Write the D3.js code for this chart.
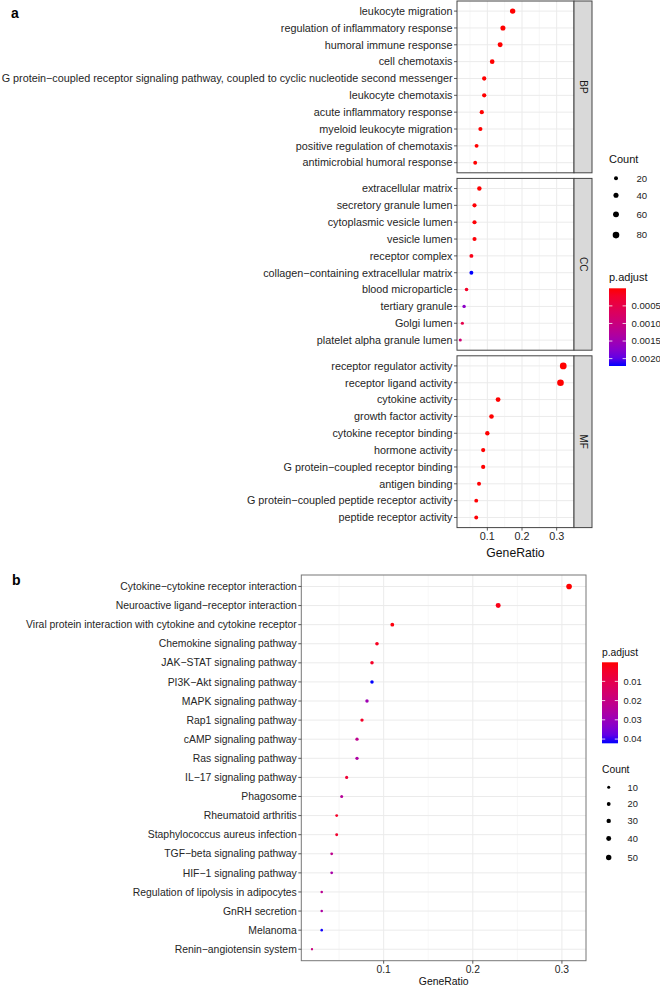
<!DOCTYPE html>
<html>
<head>
<meta charset="utf-8">
<script src="https://cdnjs.cloudflare.com/ajax/libs/d3/7.8.5/d3.min.js"></script>
<style>
  body { margin: 0; background: #fff; }
  svg { display: block; font-family: "Liberation Sans", Arial, sans-serif; }
</style>
</head>
<body>
<svg id="chart" width="660" height="986"></svg>
<script>
// ---- panel a: GO terms, one list per ontology ----
const bpTerms = ['leukocyte migration', 'regulation of inflammatory response', 'humoral immune response',
  'cell chemotaxis', 'G protein\u2212coupled receptor signaling pathway, coupled to cyclic nucleotide second messenger',
  'leukocyte chemotaxis', 'acute inflammatory response', 'myeloid leukocyte migration',
  'positive regulation of chemotaxis', 'antimicrobial humoral response']
const bpRatio = [0.173, 0.145, 0.137, 0.114, 0.091, 0.091, 0.084, 0.080, 0.069, 0.065]
const bpCount = [48, 40, 38, 31, 25, 25, 23, 22, 19, 18]
const bpPadj = [1e-12, 1e-11, 1e-10, 1e-9, 1e-8, 1e-8, 5e-8, 1e-7, 5e-7, 1e-6]

const ccTerms = ['extracellular matrix', 'secretory granule lumen', 'cytoplasmic vesicle lumen', 'vesicle lumen',
  'receptor complex', 'collagen\u2212containing extracellular matrix', 'blood microparticle', 'tertiary granule',
  'Golgi lumen', 'platelet alpha granule lumen']
const ccRatio = [0.077, 0.063, 0.063, 0.063, 0.054, 0.054, 0.040, 0.033, 0.028, 0.022]
const ccCount = [27, 22, 22, 22, 19, 19, 14, 12, 10, 8]
const ccPadj = [1e-6, 2e-5, 2e-5, 2e-5, 1e-4, 0.00221, 2e-4, 0.0017, 0.0005, 0.0009]

const mfTerms = ['receptor regulator activity', 'receptor ligand activity', 'cytokine activity',
  'growth factor activity', 'cytokine receptor binding', 'hormone activity',
  'G protein\u2212coupled receptor binding', 'antigen binding', 'G protein\u2212coupled peptide receptor activity',
  'peptide receptor activity']
const mfRatio = [0.319, 0.311, 0.131, 0.112, 0.100, 0.088, 0.088, 0.076, 0.068, 0.068]
const mfCount = [85, 82, 35, 30, 27, 23, 23, 20, 18, 18]
const mfPadj = [1e-30, 1e-29, 1e-14, 1e-10, 1e-9, 1e-7, 1e-7, 1e-5, 1e-5, 2e-5]

const countBreaksA = [20, 40, 60, 80]
const padjBreaksA = [0.0005, 0.0010, 0.0015, 0.0020]
const axisTicksA = [0.1, 0.2, 0.3]

// ---- panel b: KEGG pathways ----
const keggTerms = ['Cytokine\u2212cytokine receptor interaction', 'Neuroactive ligand\u2212receptor interaction',
  'Viral protein interaction with cytokine and cytokine receptor', 'Chemokine signaling pathway',
  'JAK\u2212STAT signaling pathway', 'PI3K\u2212Akt signaling pathway', 'MAPK signaling pathway',
  'Rap1 signaling pathway', 'cAMP signaling pathway', 'Ras signaling pathway', 'IL\u221217 signaling pathway',
  'Phagosome', 'Rheumatoid arthritis', 'Staphylococcus aureus infection', 'TGF\u2212beta signaling pathway',
  'HIF\u22121 signaling pathway', 'Regulation of lipolysis in adipocytes', 'GnRH secretion', 'Melanoma',
  'Renin\u2212angiotensin system']
const keggRatio = [0.308, 0.2285, 0.1097, 0.0925, 0.0869, 0.0869, 0.0813, 0.0757, 0.0701, 0.0701,
  0.0585, 0.0529, 0.0473, 0.0473, 0.0417, 0.0417, 0.0305, 0.0305, 0.0305, 0.0196]
const keggCount = [55, 41, 20, 17, 16, 16, 15, 14, 13, 13, 11, 10, 9, 9, 8, 8, 6, 6, 6, 4]
const keggPadj = [0.0001, 0.002, 0.001, 0.003, 0.004, 0.0422, 0.029, 0.004, 0.022, 0.026,
  0.006, 0.024, 0.004, 0.005, 0.022, 0.027, 0.023, 0.026, 0.042, 0.019]

const countBreaksB = [10, 20, 30, 40, 50]
const padjBreaksB = [0.01, 0.02, 0.03, 0.04]
const axisTicksB = [0.1, 0.2, 0.3]

const svg = d3.select('#chart')
const defs = svg.append('defs')

function padjColor(values) {
  return d3.scaleLinear()
    .domain(d3.extent(values))
    .range(['red', 'blue'])
    .interpolate(d3.interpolateLab)
}

// one bordered plotting panel with grid, dots and y labels
function drawPanel(g, o) {
  const y = d3.scalePoint().domain(o.terms).range([o.top, o.bottom]).padding(0.6)
  const [x0, x1] = o.x.range()
  g.append('rect').attr('x', x0).attr('y', o.top).attr('width', x1 - x0).attr('height', o.bottom - o.top)
    .attr('fill', '#fff')
  g.selectAll(null).data(o.minor).join('line')
    .attr('x1', d => o.x(d)).attr('x2', d => o.x(d))
    .attr('y1', o.top).attr('y2', o.bottom)
    .attr('stroke', '#f2f2f2').attr('stroke-width', 0.6)
  g.selectAll(null).data(o.ticks).join('line')
    .attr('x1', d => o.x(d)).attr('x2', d => o.x(d))
    .attr('y1', o.top).attr('y2', o.bottom)
    .attr('stroke', '#ebebeb').attr('stroke-width', 1)
  g.selectAll(null).data(o.terms).join('line')
    .attr('x1', x0).attr('x2', x1)
    .attr('y1', d => y(d)).attr('y2', d => y(d))
    .attr('stroke', '#ebebeb').attr('stroke-width', 1)

  g.selectAll(null).data(o.terms).join('circle')
    .attr('cx', (d, i) => o.x(o.ratio[i]))
    .attr('cy', d => y(d))
    .attr('r', (d, i) => o.size(o.count[i]))
    .attr('fill', (d, i) => o.color(o.padj[i]))

  g.append('rect').attr('x', x0).attr('y', o.top).attr('width', x1 - x0).attr('height', o.bottom - o.top)
    .attr('fill', 'none').attr('stroke', o.border).attr('stroke-width', 1)

  // y ticks + labels
  g.selectAll(null).data(o.terms).join('line')
    .attr('x1', x0 - 3).attr('x2', x0)
    .attr('y1', d => y(d)).attr('y2', d => y(d))
    .attr('stroke', '#333').attr('stroke-width', 0.8)
  g.selectAll(null).data(o.terms).join('text')
    .attr('x', x0 - 4.5).attr('y', d => y(d)).attr('dy', '0.35em')
    .attr('text-anchor', 'end')
    .attr('font-size', o.labelSize)
    .attr('fill', '#262626')
    .text(d => d)
}

function drawXAxis(g, x, y, ticks, tickSize, title, titleY, titleSize) {
  g.selectAll(null).data(ticks).join('line')
    .attr('x1', d => x(d)).attr('x2', d => x(d))
    .attr('y1', y).attr('y2', y + 3)
    .attr('stroke', '#333').attr('stroke-width', 0.8)
  g.selectAll(null).data(ticks).join('text')
    .attr('x', d => x(d)).attr('y', y + 4 + tickSize * 0.8)
    .attr('text-anchor', 'middle')
    .attr('font-size', tickSize)
    .attr('fill', '#262626')
    .text(d3.format('.1f'))
  const [x0, x1] = x.range()
  g.append('text')
    .attr('x', (x0 + x1) / 2).attr('y', titleY)
    .attr('text-anchor', 'middle')
    .attr('font-size', titleSize)
    .attr('fill', '#111')
    .text(title)
}

function sizeLegend(g, o) {
  g.append('text').attr('x', o.x).attr('y', o.titleY).attr('dy', '0.35em')
    .attr('font-size', o.titleSize).attr('fill', '#111').text('Count')
  const heights = o.breaks.map(b => o.keyH(o.size(b)))
  let cy = o.firstY
  const ys = o.breaks.map((b, i) => {
    if (i > 0) cy += (heights[i - 1] + heights[i]) / 2
    return cy
  })
  g.selectAll(null).data(o.breaks).join('circle')
    .attr('cx', o.dotX).attr('cy', (d, i) => ys[i])
    .attr('r', d => o.size(d)).attr('fill', '#000')
  g.selectAll(null).data(o.breaks).join('text')
    .attr('x', o.labelX).attr('y', (d, i) => ys[i]).attr('dy', '0.35em')
    .attr('font-size', o.labelSize).attr('fill', '#222')
    .text(d => d)
}

function colorLegend(g, o) {
  g.append('text').attr('x', o.x).attr('y', o.titleY).attr('dy', '0.35em')
    .attr('font-size', o.titleSize).attr('fill', '#111').text('p.adjust')
  const dom = o.color.domain()
  const grad = defs.append('linearGradient').attr('id', o.id)
    .attr('x1', 0).attr('x2', 0).attr('y1', 0).attr('y2', 1)
  d3.range(0, 1.0001, 0.1).forEach(t => {
    grad.append('stop').attr('offset', t)
      .attr('stop-color', o.color(dom[0] + t * (dom[1] - dom[0])))
  })
  g.append('rect').attr('x', o.x).attr('y', o.top).attr('width', o.w).attr('height', o.bottom - o.top)
    .attr('fill', `url(#${o.id})`)
  const yb = d3.scaleLinear().domain(dom).range([o.top, o.bottom])
  g.selectAll(null).data(o.breaks).join('path')
    .attr('d', d => `M${o.x},${yb(d)}h${o.w / 5}M${o.x + o.w},${yb(d)}h${-o.w / 5}`)
    .attr('stroke', '#fff').attr('stroke-width', 0.8)
  g.selectAll(null).data(o.breaks).join('text')
    .attr('x', o.x + o.w + 5.5).attr('y', d => yb(d)).attr('dy', '0.35em')
    .attr('font-size', o.labelSize).attr('fill', '#222')
    .text(d3.format(o.fmt))
}

// ================= panel a =================
const gA = svg.append('g')
gA.append('text').attr('x', 11).attr('y', 18).attr('font-size', 14).attr('font-weight', 'bold').text('a')

const xA = d3.scaleLinear().domain([0.0125, 0.35]).range([457, 574])
const sizeA = d3.scaleSqrt().domain([20, 80]).range([2, 3.3])
const colorA = padjColor(bpPadj.concat(ccPadj, mfPadj))
const facetsA = [
  { name: 'BP', terms: bpTerms, ratio: bpRatio, count: bpCount, padj: bpPadj },
  { name: 'CC', terms: ccTerms, ratio: ccRatio, count: ccCount, padj: ccPadj },
  { name: 'MF', terms: mfTerms, ratio: mfRatio, count: mfCount, padj: mfPadj },
]
const facetTop = 1, facetH = 171.8, facetGap = 5.6, stripW = 18
facetsA.forEach((f, i) => {
  const top = facetTop + i * (facetH + facetGap)
  drawPanel(gA, {
    terms: f.terms, ratio: f.ratio, count: f.count, padj: f.padj,
    x: xA, top: top, bottom: top + facetH, size: sizeA, color: colorA,
    ticks: axisTicksA, minor: [0.05, 0.15, 0.25], border: '#444', labelSize: 10.8,
  })
  const sx = xA.range()[1]
  gA.append('rect').attr('x', sx).attr('y', top).attr('width', stripW).attr('height', facetH)
    .attr('fill', '#d9d9d9').attr('stroke', '#444').attr('stroke-width', 1)
  gA.append('text')
    .attr('transform', `translate(${sx + stripW / 2},${top + facetH / 2}) rotate(90)`)
    .attr('text-anchor', 'middle').attr('dy', '0.35em')
    .attr('font-size', 10).attr('fill', '#1a1a1a')
    .text(f.name)
})
const bottomA = facetTop + 3 * facetH + 2 * facetGap
drawXAxis(gA, xA, bottomA, axisTicksA, 10.8, 'GeneRatio', 557, 12.2)

sizeLegend(gA, {
  x: 609, titleY: 159, titleSize: 11, breaks: countBreaksA, size: sizeA,
  dotX: 616, firstY: 178.3, labelX: 636.5, labelSize: 9.6, keyH: r => 7 + 4.4 * r,
})
colorLegend(gA, {
  id: 'gradA', x: 609, w: 17, top: 288.3, bottom: 366, titleY: 276.7, titleSize: 11,
  color: colorA, breaks: padjBreaksA, fmt: '.4f', labelSize: 9.6,
})

// ================= panel b =================
const gB = svg.append('g')
gB.append('text').attr('x', 12).attr('y', 585).attr('font-size', 14).attr('font-weight', 'bold').text('b')

const xB = d3.scaleLinear().domain([0.0076, 0.327]).range([301.3, 586])
const sizeB = d3.scaleSqrt().domain([10, 50]).range([1.5, 2.7])
const colorB = padjColor(keggPadj)
drawPanel(gB, {
  terms: keggTerms, ratio: keggRatio, count: keggCount, padj: keggPadj,
  x: xB, top: 575, bottom: 960.7, size: sizeB, color: colorB,
  ticks: axisTicksB, minor: [0.05, 0.15, 0.25], border: '#777', labelSize: 10.4,
})
drawXAxis(gB, xB, 960.7, axisTicksB, 10.3, 'GeneRatio', 984.5, 10.4)

colorLegend(gB, {
  id: 'gradB', x: 602, w: 16, top: 662.3, bottom: 743.3, titleY: 652.7, titleSize: 10.3,
  color: colorB, breaks: padjBreaksB, fmt: '.2f', labelSize: 9.3,
})
sizeLegend(gB, {
  x: 602, titleY: 769.3, titleSize: 10.3, breaks: countBreaksB, size: sizeB,
  dotX: 608.7, firstY: 787.3, labelX: 627.5, labelSize: 9.3, keyH: r => Math.max(16.7, 6 + 5 * r),
})
</script>
</body>
</html>
